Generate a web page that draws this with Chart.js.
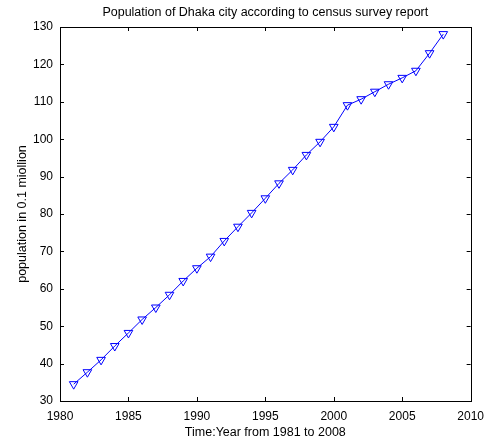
<!DOCTYPE html>
<html>
<head>
<meta charset="utf-8">
<script src="https://cdn.jsdelivr.net/npm/chart.js@4"></script>
<style>
  html, body { margin: 0; padding: 0; background: #fff; }
  #wrap { width: 492px; height: 443px; }
</style>
</head>
<body>
<div id="wrap"><canvas id="pop-chart" width="492" height="443"></canvas></div>
<script>
// census years and population (in 0.1 million)
const YEARS = [1981, 1982, 1983, 1984, 1985, 1986, 1987, 1988, 1989, 1990,
               1991, 1992, 1993, 1994, 1995, 1996, 1997, 1998, 1999, 2000,
               2001, 2002, 2003, 2004, 2005, 2006, 2007, 2008];
const POPULATION = [34.5, 37.7, 41.0, 44.7, 48.2, 51.8, 55.0, 58.4, 62.1, 65.5,
                    68.6, 72.8, 76.6, 80.3, 84.2, 88.2, 91.8, 95.8, 99.3, 103.3,
                    109.1, 110.7, 112.7, 114.7, 116.4, 118.3, 123.0, 128.1];
const X_TICKS = [1980, 1985, 1990, 1995, 2000, 2005, 2010];
const Y_TICKS = [30, 40, 50, 60, 70, 80, 90, 100, 110, 120, 130];

const TITLE = 'Population of Dhaka city according to census survey report';
const FONT = 'Liberation Sans, Arial, sans-serif';

/* Draws the MATLAB style box, inward tick marks on all four sides and the title */
const boxPlugin = {
    id: 'matlabBox',
    afterDraw(chart) {
        const ctx = chart.ctx;
        const area = chart.chartArea;
        const xs = chart.scales.x, ys = chart.scales.y;
        const len = 4;
        ctx.save();
        ctx.strokeStyle = '#000';
        ctx.lineWidth = 1;
        ctx.strokeRect(Math.round(area.left) + 0.5, Math.round(area.top) + 0.5,
                       Math.round(area.right - area.left), Math.round(area.bottom - area.top));
        ctx.beginPath();
        X_TICKS.forEach(v => {
            const px = Math.round(xs.getPixelForValue(v)) + 0.5;
            ctx.moveTo(px, area.bottom); ctx.lineTo(px, area.bottom - len);
            ctx.moveTo(px, area.top); ctx.lineTo(px, area.top + len);
        });
        Y_TICKS.forEach(v => {
            const py = Math.round(ys.getPixelForValue(v)) + 0.5;
            ctx.moveTo(area.left, py); ctx.lineTo(area.left + len, py);
            ctx.moveTo(area.right, py); ctx.lineTo(area.right - len, py);
        });
        ctx.stroke();
        // title
        ctx.fillStyle = '#000';
        ctx.font = '12.5px ' + FONT;
        ctx.textAlign = 'center';
        ctx.textBaseline = 'middle';
        ctx.fillText(TITLE, (area.left + area.right) / 2, 13);
        ctx.restore();
    }
};

function initPopChart() {
    const ctx = document.getElementById('pop-chart');
    return new Chart(ctx, {
        type: 'scatter',
        data: {
            datasets: [{
                data: YEARS.map((y, i) => ({x: y, y: POPULATION[i]})),
                showLine: true,
                borderColor: 'rgb(0, 0, 255)',
                borderWidth: 1,
                pointStyle: 'triangle',
                rotation: 180,
                pointRadius: 5,
                pointBorderWidth: 1,
                pointBorderColor: 'rgb(0, 0, 255)',
                pointBackgroundColor: 'rgba(0, 0, 0, 0)'
            }]
        },
        plugins: [boxPlugin],
        options: {
            responsive: false,
            animation: false,
            layout: { padding: { top: 27, right: 16, left: 0, bottom: 0 } },
            plugins: { legend: { display: false }, tooltip: { enabled: false } },
            scales: {
                x: {
                    type: 'linear',
                    min: 1980, max: 2010,
                    afterBuildTicks: s => { s.ticks = X_TICKS.map(v => ({value: v})); },
                    afterFit: s => { s.height = 42; },
                    grid: { display: false, drawTicks: false },
                    border: { display: false },
                    ticks: {
                        color: '#000', padding: 8, maxRotation: 0,
                        font: { family: FONT, size: 12 },
                        callback: v => String(v)
                    },
                    title: {
                        display: true, text: 'Time:Year from 1981 to 2008', color: '#000',
                        font: { family: FONT, size: 12.5 }, padding: { top: 0, bottom: 3 }
                    }
                },
                y: {
                    min: 30, max: 130,
                    afterBuildTicks: s => { s.ticks = Y_TICKS.map(v => ({value: v})); },
                    afterFit: s => { s.width = 60; },
                    grid: { display: false, drawTicks: false },
                    border: { display: false },
                    ticks: {
                        color: '#000', padding: 7,
                        font: { family: FONT, size: 12 }
                    },
                    title: {
                        display: true, text: 'population in 0.1 miollion', color: '#000',
                        font: { family: FONT, size: 12.5 }, padding: { top: 15, bottom: 0 }
                    }
                }
            }
        }
    });
}

var popChart = initPopChart();
</script>
</body>
</html>
